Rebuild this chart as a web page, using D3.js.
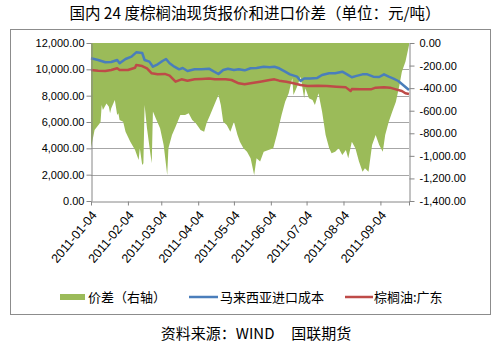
<!DOCTYPE html>
<html><head><meta charset="utf-8">
<script src="https://cdn.jsdelivr.net/npm/d3@7"></script>
<style>body{margin:0;background:#fff}svg{display:block}</style>
</head><body>
<script>
const titleText = "国内 24 度棕榈油现货报价和进口价差（单位：元/吨）";
const sourceText = "资料来源：WIND\u00a0\u00a0\u00a0\u00a0\u00a0国联期货";
const seriesNames = ["价差（右轴）", "马来西亚进口成本", "棕榈油:广东"];
const xTickLabels = ["2011-01-04","2011-02-04","2011-03-04","2011-04-04","2011-05-04","2011-06-04","2011-07-04","2011-08-04","2011-09-04"];
const leftTicks = [0, 2000, 4000, 6000, 8000, 10000, 12000];
const rightTicks = [0, -200, -400, -600, -800, -1000, -1200, -1400];

const spreadDates = ["2011-01-04","2011-01-07","2011-01-12","2011-01-13","2011-01-14","2011-01-17","2011-01-19","2011-01-20","2011-01-21","2011-01-24","2011-01-26","2011-01-27","2011-01-28","2011-01-31","2011-02-02","2011-02-06","2011-02-10","2011-02-13","2011-02-14","2011-02-16","2011-02-17","2011-02-18","2011-02-20","2011-02-23","2011-02-24","2011-02-25","2011-02-28","2011-03-03","2011-03-06","2011-03-09","2011-03-10","2011-03-13","2011-03-16","2011-03-20","2011-03-24","2011-03-27","2011-03-30","2011-04-02","2011-04-06","2011-04-09","2011-04-11","2011-04-14","2011-04-18","2011-04-21","2011-04-23","2011-04-25","2011-04-28","2011-05-01","2011-05-04","2011-05-07","2011-05-09","2011-05-12","2011-05-15","2011-05-18","2011-05-21","2011-05-23","2011-05-26","2011-05-29","2011-06-02","2011-06-06","2011-06-09","2011-06-13","2011-06-16","2011-06-19","2011-06-22","2011-06-23","2011-06-26","2011-06-29","2011-07-02","2011-07-03","2011-07-06","2011-07-09","2011-07-11","2011-07-14","2011-07-17","2011-07-20","2011-07-23","2011-07-25","2011-07-28","2011-07-31","2011-08-03","2011-08-06","2011-08-08","2011-08-11","2011-08-14","2011-08-17","2011-08-20","2011-08-22","2011-08-25","2011-08-28","2011-08-31","2011-09-03","2011-09-06","2011-09-08","2011-09-11","2011-09-14","2011-09-17","2011-09-20","2011-09-22","2011-09-25","2011-09-28"];
const spreadValues = [-930,-771,-703,-549,-594,-535,-564,-623,-579,-505,-638,-623,-682,-697,-786,-874,-948,-1037,-933,-1081,-1066,-549,-756,-992,-1066,-608,-682,-756,-904,-1170,-933,-815,-741,-638,-638,-623,-682,-712,-771,-786,-712,-638,-535,-461,-549,-697,-727,-786,-697,-815,-874,-933,-963,-1022,-1170,-1022,-1051,-963,-948,-933,-815,-638,-520,-446,-313,-461,-387,-298,-490,-402,-490,-505,-549,-446,-608,-815,-933,-978,-963,-933,-992,-948,-1022,-874,-933,-1051,-1140,-1110,-1140,-904,-815,-904,-963,-815,-697,-608,-520,-372,-254,-166,-20];

const costDates = ["2011-01-04","2011-01-10","2011-01-16","2011-01-21","2011-01-26","2011-01-28","2011-02-02","2011-02-07","2011-02-11","2011-02-16","2011-02-18","2011-02-22","2011-02-25","2011-03-01","2011-03-05","2011-03-08","2011-03-11","2011-03-15","2011-03-19","2011-03-22","2011-03-26","2011-04-01","2011-04-07","2011-04-13","2011-04-17","2011-04-21","2011-04-25","2011-04-29","2011-05-04","2011-05-08","2011-05-13","2011-05-18","2011-05-23","2011-05-29","2011-06-03","2011-06-07","2011-06-11","2011-06-16","2011-06-20","2011-06-26","2011-06-29","2011-07-02","2011-07-07","2011-07-13","2011-07-17","2011-07-23","2011-07-28","2011-08-03","2011-08-07","2011-08-11","2011-08-15","2011-08-20","2011-08-24","2011-08-29","2011-09-03","2011-09-07","2011-09-11","2011-09-15","2011-09-19","2011-09-23","2011-09-28"];
const costValues = [10838,10709,10534,10560,10709,10458,10785,10960,11290,11240,10709,10584,10200,10380,10633,10785,10458,10200,10000,10100,9874,10000,10000,10050,9840,9646,9950,10050,9950,10000,9924,10078,10100,10200,10150,10200,10078,9820,9621,9443,9114,9300,9300,9350,9570,9700,9700,9820,9620,9400,9500,9620,9620,9443,9420,9620,9443,9300,9114,8810,8430];

const gdDates = ["2011-01-04","2011-01-10","2011-01-16","2011-01-21","2011-01-26","2011-01-28","2011-02-04","2011-02-10","2011-02-11","2011-02-16","2011-02-20","2011-02-24","2011-03-01","2011-03-07","2011-03-11","2011-03-16","2011-03-21","2011-03-26","2011-04-01","2011-04-07","2011-04-13","2011-04-18","2011-04-27","2011-05-02","2011-05-08","2011-05-13","2011-05-18","2011-05-26","2011-06-03","2011-06-07","2011-06-11","2011-06-17","2011-06-23","2011-06-29","2011-07-05","2011-07-13","2011-07-21","2011-07-29","2011-08-06","2011-08-10","2011-08-11","2011-08-18","2011-08-27","2011-08-31","2011-09-07","2011-09-12","2011-09-17","2011-09-22","2011-09-25","2011-09-28"];
const gdValues = [9950,9900,9870,9950,10078,9950,9950,10125,10330,10250,10078,9700,9620,9650,9520,9060,9240,9140,9240,9270,9300,9240,9240,9190,8940,8870,8940,9060,9190,9240,9140,9060,8940,8810,8740,8760,8740,8680,8630,8354,8500,8480,8480,8610,8630,8610,8480,8354,8180,8120];

const parse = d3.timeParse("%Y-%m-%d");
const spread = spreadDates.map((d, i) => ({date: parse(d), value: spreadValues[i]}));
const cost = costDates.map((d, i) => ({date: parse(d), value: costValues[i]}));
const gd = gdDates.map((d, i) => ({date: parse(d), value: gdValues[i]}));

const W = 497, H = 352;
const plot = {left: 91, right: 409, top: 43, bottom: 201};
const cjk = "'Noto Sans CJK SC', 'Noto Sans', sans-serif";
const num = "'Liberation Sans', Arial, sans-serif";
const green = "#9bbb59", blue = "#4a7ebb", red = "#be4b48", axisGray = "#868686";
const fmt = d3.formatLocale({decimal: ".", thousands: ",", grouping: [3], currency: ["", ""], minus: "-"}).format(",.2f");

const svg = d3.select("body").append("svg").attr("width", W).attr("height", H);
svg.append("rect").attr("width", W).attr("height", H).attr("fill", "#fff");
svg.append("rect").attr("x", 10.5).attr("y", 29.5).attr("width", 480).attr("height", 285)
  .attr("fill", "none").attr("stroke", "#8c8c8c").attr("stroke-width", 1);

svg.append("text").attr("x", 255).attr("y", 19).attr("text-anchor", "middle")
  .attr("font-family", cjk).attr("font-size", 15.5).attr("fill", "#000").text(titleText);

const x = d3.scaleTime().domain([spread[0].date, spread[spread.length - 1].date]).range([plot.left, plot.right]);
const yL = d3.scaleLinear().domain([0, 12000]).range([plot.bottom, plot.top]);
const yR = d3.scaleLinear().domain([-1400, 0]).range([plot.bottom, plot.top]);

// gridlines
svg.append("g").selectAll("line").data(leftTicks.filter(t => t > 0)).join("line")
  .attr("x1", plot.left).attr("x2", plot.right)
  .attr("y1", d => Math.round(yL(d)) + 0.5).attr("y2", d => Math.round(yL(d)) + 0.5)
  .attr("stroke", "#a6a6a6").attr("stroke-width", 1);

// area (right axis)
svg.append("path").datum(spread)
  .attr("fill", green)
  .attr("d", d3.area().x(d => x(d.date)).y0(yR(0)).y1(d => yR(d.value)));

// lines
const lineL = d3.line().x(d => x(d.date)).y(d => yL(d.value));
svg.append("path").datum(cost).attr("fill", "none").attr("stroke", blue)
  .attr("stroke-width", 2.5).attr("stroke-linejoin", "round").attr("d", lineL);
svg.append("path").datum(gd).attr("fill", "none").attr("stroke", red)
  .attr("stroke-width", 2.5).attr("stroke-linejoin", "round").attr("d", lineL);

// left axis
const gL = svg.append("g").attr("transform", `translate(${plot.left + 0.5},0)`)
  .call(d3.axisLeft(yL).tickValues(leftTicks).tickFormat(fmt).tickSize(5).tickSizeOuter(0));
// right axis
const gR = svg.append("g").attr("transform", `translate(${plot.right + 0.5},0)`)
  .call(d3.axisRight(yR).tickValues(rightTicks).tickFormat(fmt).tickSize(5).tickSizeOuter(0));
// bottom axis
const xTicks = xTickLabels.map(parse).concat([spread[spread.length - 1].date]);
const gB = svg.append("g").attr("transform", `translate(0,${plot.bottom + 0.5})`)
  .call(d3.axisBottom(x).tickValues(xTicks).tickFormat(d3.timeFormat("%Y-%m-%d")).tickSize(4).tickSizeOuter(0));
gB.selectAll(".tick").filter((d, i) => i === xTicks.length - 1).select("text").remove();

[gL, gR, gB].forEach(g => {
  g.select(".domain").attr("stroke", axisGray);
  g.selectAll(".tick line").attr("stroke", axisGray);
  g.selectAll("text").attr("font-family", num).attr("font-size", 11).attr("fill", "#000");
});
gL.selectAll("text").attr("x", -7);
gR.selectAll("text").attr("x", 10);
gB.selectAll("text")
  .attr("font-size", 12.5)
  .attr("text-anchor", "end").attr("dy", null).attr("y", 0).attr("x", 0)
  .attr("transform", "translate(6,14) rotate(-50)");

// legend
const lg = svg.append("g").attr("font-family", cjk).attr("font-size", 13);
lg.append("rect").attr("x", 60).attr("y", 294).attr("width", 25).attr("height", 6).attr("fill", green);
lg.append("text").attr("x", 88).attr("y", 302).text(seriesNames[0]);
lg.append("line").attr("x1", 189).attr("x2", 218).attr("y1", 297).attr("y2", 297).attr("stroke", blue).attr("stroke-width", 2.5);
lg.append("text").attr("x", 220).attr("y", 302).text(seriesNames[1]);
lg.append("line").attr("x1", 345).attr("x2", 373).attr("y1", 297).attr("y2", 297).attr("stroke", red).attr("stroke-width", 2.5);
lg.append("text").attr("x", 374).attr("y", 302).text(seriesNames[2]);

svg.append("text").attr("x", 256).attr("y", 339).attr("text-anchor", "middle")
  .attr("font-family", cjk).attr("font-size", 15).attr("fill", "#000").text(sourceText);
</script>
</body></html>
